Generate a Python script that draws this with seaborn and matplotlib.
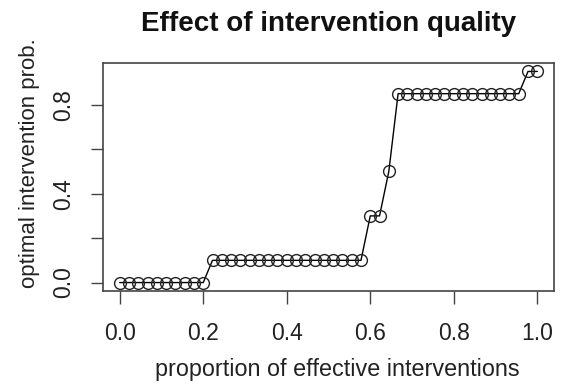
import numpy as np
import pandas as pd
import matplotlib
matplotlib.use("Agg")
import matplotlib.pyplot as plt
import seaborn as sns

# proportion of effective interventions (46 grid points, step 1/45)
proportion = [i / 45 for i in range(46)]
# optimal intervention probability
opt_prob = ([0.0] * 10 + [0.1] * 17 + [0.3, 0.3, 0.5] + [0.85] * 14 + [0.95, 0.95])

x_ticks = [0.0, 0.2, 0.4, 0.6, 0.8, 1.0]
y_ticks = [0.0, 0.2, 0.4, 0.6, 0.8]
y_tick_labels = ["0.0", "", "0.4", "", "0.8"]

df = pd.DataFrame({"proportion": proportion, "prob": opt_prob})

sns.set_style("ticks")
plt.rcParams["font.family"] = ["Liberation Sans", "DejaVu Sans"]

fig = plt.figure(figsize=(5.61, 3.89), dpi=100)
ax = fig.add_axes([103 / 561, 1 - 291 / 389, (554 - 103) / 561, (291 - 63) / 389])

sns.lineplot(data=df, x="proportion", y="prob", ax=ax, color="black", linewidth=1.0,
             marker="o", markersize=8.5, markerfacecolor="none", markeredgecolor="#222222",
             markeredgewidth=1.0)

ax.set_xlim(-0.04, 1.04)
ax.set_ylim(-0.038, 0.988)
ax.set_xticks(x_ticks)
ax.set_xticklabels([f"{t:.1f}" for t in x_ticks])
ax.set_yticks(y_ticks)
ax.set_yticklabels(y_tick_labels, rotation=90, va="center")
ax.tick_params(axis="both", direction="out", length=9, width=1, labelsize=16.5, pad=13,
               colors="#444444", labelcolor="#222222")
ax.tick_params(axis="y", pad=11)
for s in ax.spines.values():
    s.set_visible(True)
    s.set_color("#444444")
    s.set_linewidth(1.2)

ax.set_xlabel("proportion of effective interventions", fontsize=16.8, color="#222222")
ax.set_ylabel("optimal intervention prob.", fontsize=16, color="#222222")
ax.xaxis.set_label_coords(0.519, -0.295)
ax.yaxis.set_label_coords(-0.14, 0.56)
ax.set_title("Effect of intervention quality", fontsize=20, fontweight="bold", pad=23, color="#111111")

fig.savefig("out.png", dpi=100)
